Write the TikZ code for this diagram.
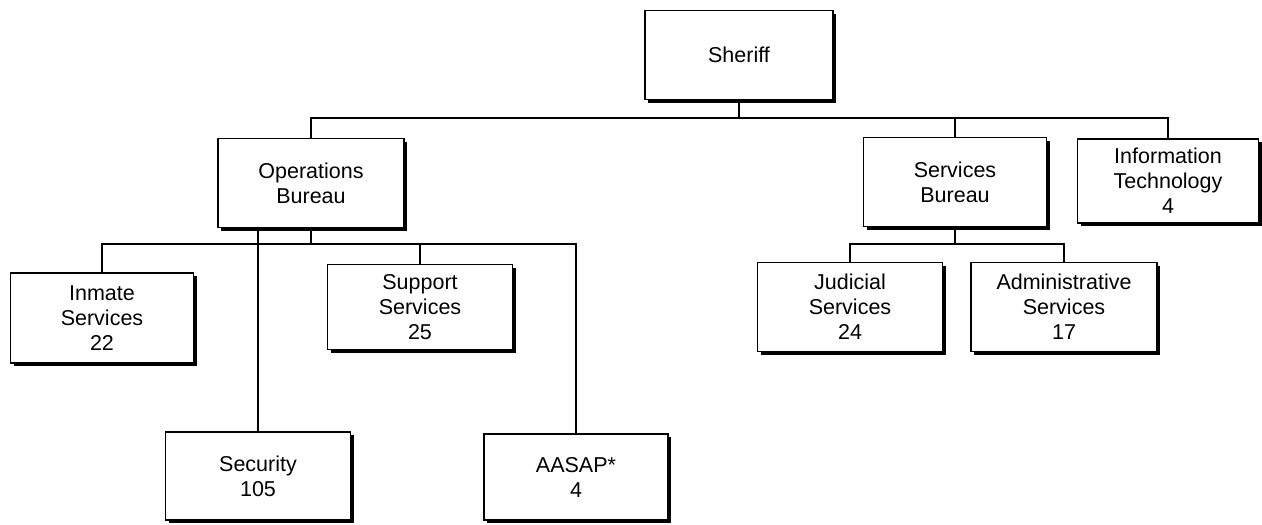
\documentclass[tikz,border=0pt]{standalone}
\usepackage{fontspec}
\setmainfont{Liberation Sans}
\usepackage{tikz}
\usetikzlibrary{positioning,shadows}

\begin{document}
\begin{tikzpicture}[
  x=1pt,y=-1pt,
  unit/.style={rectangle,draw=black,fill=white,line width=1.4pt,
    align=center,minimum width=185pt,minimum height=89pt,inner sep=0pt,
    font=\fontsize{21.5}{25}\selectfont,
    drop shadow={shadow xshift=3pt,shadow yshift=-3pt,fill=black,opacity=1}},
  link/.style={line width=1.4pt,draw=black}
]
\useasboundingbox (0,0) rectangle (1262,525);

\node[unit,minimum width=188pt] (sheriff) at (739,55) {Sheriff};
\node[unit,minimum width=186pt] (ops) at (311,183) {Operations\\Bureau};
\node[unit,minimum width=183pt] (services) at (955,182) {Services\\Bureau};
\node[unit,minimum width=181pt,minimum height=84pt] (infotech) at (1168,181) {Information\\Technology\\4};
\node[unit,minimum width=183pt,minimum height=90pt] (inmate) at (102,318) {Inmate\\Services\\22};
\node[unit,minimum height=85pt] (support) at (420,307) {Support\\Services\\25};
\node[unit,minimum height=88pt] (security) at (258,476) {Security\\105};
\node[unit,minimum width=184pt,minimum height=86pt] (aasap) at (576,477) {AASAP*\\4};
\node[unit] (judicial) at (850,307) {Judicial\\Services\\24};
\node[unit,minimum width=186pt] (admin) at (1064,307) {Administrative\\Services\\17};

\coordinate (topbus) at (0,118);
\coordinate (opsbus) at (0,244);
\coordinate (srvbus) at (0,244);

% top level
\draw[link] (sheriff.south) -- (sheriff.south |- topbus);
\draw[link] (ops.north) |- (topbus -| infotech.north) -- (infotech.north);
\draw[link] (services.north) -- (services.north |- topbus);

% operations bureau
\draw[link] (ops.south) -- (ops.south |- opsbus);
\draw[link] (inmate.north) |- (opsbus -| aasap.north) -- (aasap.north);
\draw[link] (support.north) -- (support.north |- opsbus);
\draw[link] (ops.south -| security.north) -- (security.north);

% services bureau
\draw[link] (services.south) -- (services.south |- srvbus);
\draw[link] (judicial.north) |- (srvbus -| admin.north) -- (admin.north);
\end{tikzpicture}
\end{document}
